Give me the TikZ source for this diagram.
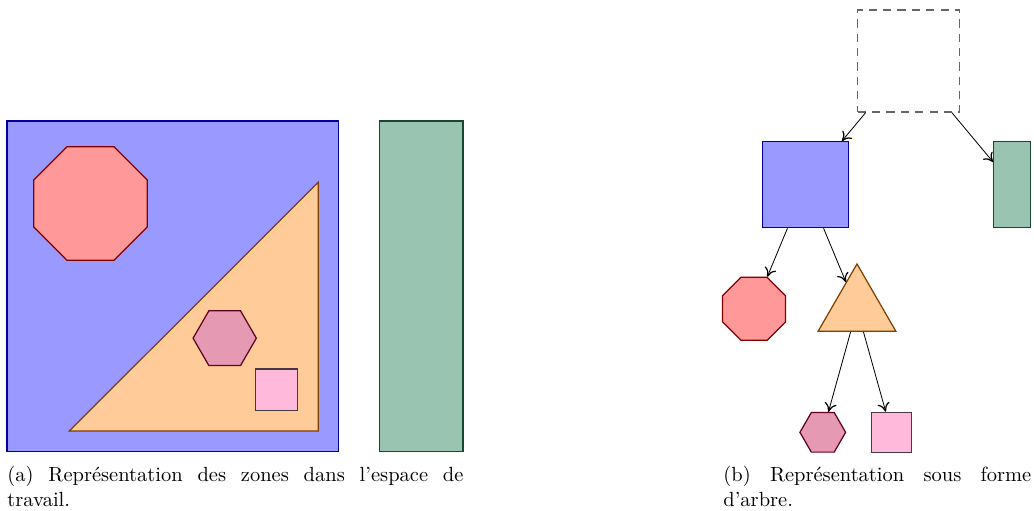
\documentclass[tikz,border=0pt]{standalone}
\usepackage{xcolor}
\usepackage{tikz}
\usetikzlibrary{shapes.geometric,arrows.meta}
\definecolor{vertClair}{RGB}{153,196,177}
\definecolor{vertFonce}{RGB}{22,72,48}
\definecolor{roseClair}{RGB}{255,185,218}
\definecolor{roseFonce}{RGB}{72,56,64}
\tikzstyle{line} = [draw, -{To[length=1.5mm,width=2.1mm,line width=0.6pt]}]
\tikzstyle{racineStyle} = [draw=black!60, dash pattern=on 4pt off 3pt, semithick]
\tikzstyle{zoneBleue} = [draw=blue!60!black, fill=blue!40, semithick]
\tikzstyle{zoneVerte} = [draw=vertFonce, fill=vertClair, semithick]
\tikzstyle{zoneRouge} = [draw=red!50!black, fill=red!40, semithick]
\tikzstyle{zoneOrange} = [draw=orange!50!black, fill=orange!40, semithick]
\tikzstyle{zoneViolette} = [draw=purple!50!black, fill=purple!40, semithick]
\tikzstyle{zoneRose} = [draw=roseFonce, fill=roseClair, semithick]
\tikzstyle{octo} = [regular polygon, regular polygon sides=8]
\tikzstyle{hexa} = [regular polygon, regular polygon sides=6]
\tikzstyle{tri} = [regular polygon, regular polygon sides=3]
\tikzstyle{legende} = [anchor=base west, align=justify]
\hyphenpenalty=10000

\begin{document}
\begin{tikzpicture}[x=1mm, y=1mm]
            \tikzstyle{every node}+=[inner sep=0pt]
                \useasboundingbox (0,0) rectangle (177.3,87.45);
                % (a) zones dans l'espace de travail
                \draw [zoneBleue] (1.2,10) rectangle (58.1,66.7);
                \node [zoneRouge, octo, minimum size=21.05mm] (octogone) at (15.52,52.56) {};
                \draw [zoneOrange] (11.88,13.55) -- (54.58,13.55) -- (54.58,56.19) -- cycle;
                \node [zoneViolette, hexa, minimum size=10.85mm] (hexagone) at (38.53,29.46) {};
                \draw [zoneRose] (43.84,17.03) rectangle (50.98,24.18);
                \draw [zoneVerte] (65.11,10) rectangle (79.39,66.7);
                \node [legende, text width=78.2mm] (legendeA) at (1.2,4.89)
                    {(a) Représentation des zones dans l'espace de travail.};
                % (b) arbre des zones
                \node [racineStyle, minimum size=17.5mm] (racine) at (155.83,76.99) {};
                \node [zoneBleue, minimum size=14.75mm] (nEspace) at (138.12,55.78) {};
                \node [zoneVerte, minimum width=6.29mm, minimum height=14.75mm] (nBande) at (173.53,55.78) {};
                \node [zoneRouge, octo, minimum size=11.7mm] (nOcto) at (129.29,34.5) {};
                \node [zoneOrange, tri, minimum size=15.38mm] (nTri) at (146.95,34.5) {};
                \node [zoneViolette, hexa, minimum size=7.84mm] (nHexa) at (141.08,13.32) {};
                \node [zoneRose, minimum size=6.86mm] (nCarre) at (152.86,13.32) {};
                \path [line] (racine) -- (nEspace);
                \path [line] (racine) -- (nBande);
                \path [line] (nEspace) -- (nOcto);
                \path [line] (nEspace) -- (nTri);
                \path [line] (nTri) -- (nHexa);
                \path [line] (nTri) -- (nCarre);
                \node [legende, text width=52.8mm] (legendeB) at (123.97,4.89)
                    {(b) Représentation sous forme d'arbre.};
            \end{tikzpicture}
\end{document}
